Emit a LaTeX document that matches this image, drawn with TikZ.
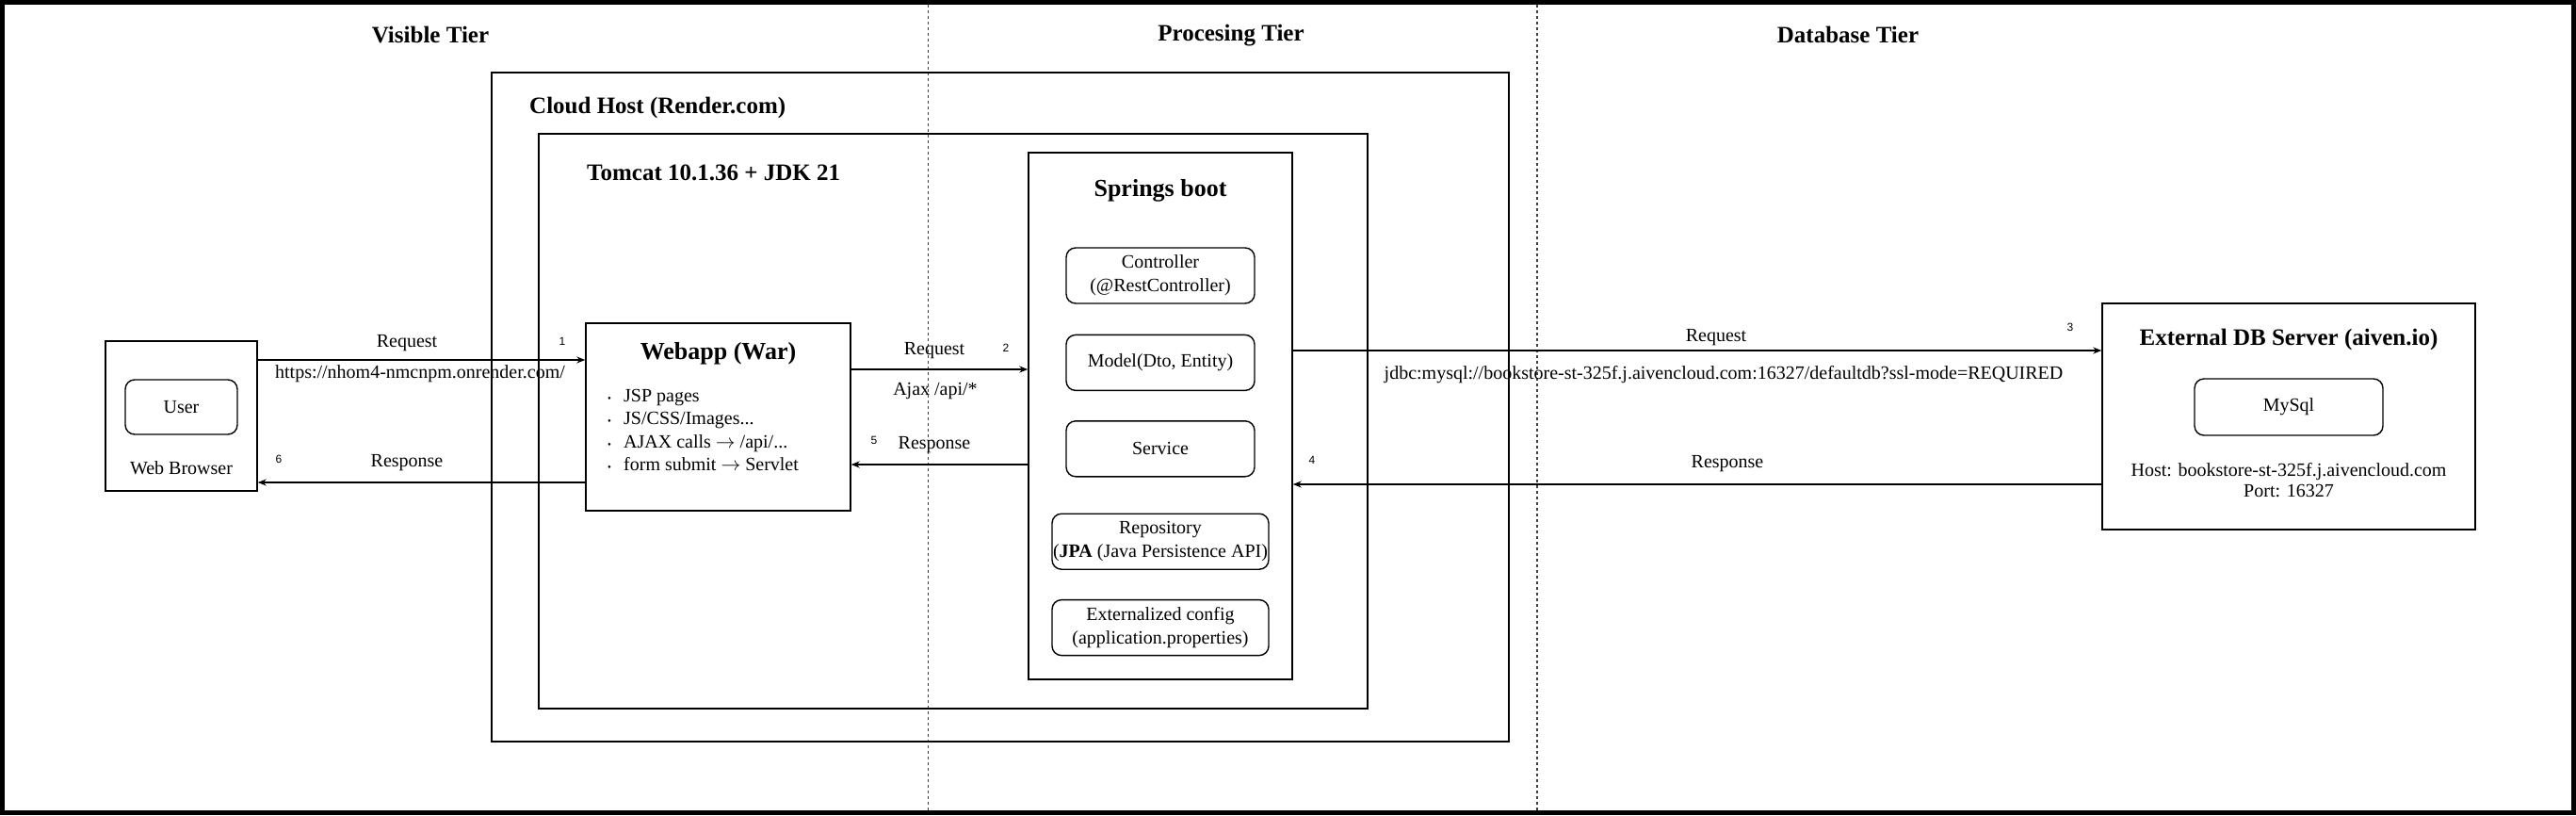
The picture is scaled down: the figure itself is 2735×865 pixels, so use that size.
\documentclass[tikz,border=0pt]{standalone}
\usepackage{fontspec}
\setmainfont{Liberation Serif}
\newfontfamily\numfont{Liberation Sans}
\usetikzlibrary{arrows.meta,positioning}
\tikzset{>={Stealth[length=9pt,width=7pt]},
  box/.style={draw,line width=1.4pt,inner sep=0pt},
  rbox/.style={box,rounded corners=10pt,minimum height=59pt,align=center,font=\fontsize{20}{25}\selectfont},
  ttl/.style={inner sep=0pt,font=\fontsize{25}{29}\selectfont\bfseries},
  txt/.style={inner sep=0pt,font=\fontsize{20}{22}\selectfont},
  num/.style={inner sep=0pt,font=\numfont\fontsize{12}{14}\selectfont},
  arr/.style={->,line width=1.4pt},
  sep/.style={line width=1.2pt,black!75,dash pattern=on 3pt off 3pt}}
\newcommand{\wbul}{\makebox[17pt][l]{\fontsize{11}{11}\selectfont\textbullet}}

\begin{document}
\begin{tikzpicture}[x=1pt,y=-1pt,node distance=32pt]
\useasboundingbox (0,0) rectangle (2735,865);
\draw[line width=5pt] (2.5,2.5) rectangle (2732.5,862.5);

% tiers
\node[ttl] (vis) at (457,37) {Visible Tier};
\node[ttl] (proc) at (1307,38) {Procesing Tier};
\node[ttl] (dbt) at (1962,37) {Database Tier};
\coordinate (s1) at (985.5,5);
\coordinate (s2) at (1632,5);
\draw[sep] (s1) -- ++(0,855);
\draw[sep] (s2) -- ++(0,855);

% browser
\node[box,minimum width=161pt,minimum height=159pt] (browser) at (192.5,441.5) {};
\node[rbox,minimum width=119pt,minimum height=58pt] (user) at (192.5,432) {User};
\node[txt] (wb) at (192.5,497) {Web Browser};

% cloud host + tomcat
\node[box,minimum width=1080pt,minimum height=710pt] (cloud) at (1062,432) {};
\node[ttl,anchor=west] (cloudt) at (562,114) {Cloud Host (Render.com)};
\node[box,minimum width=880pt,minimum height=610pt] (tomcat) at (1012,447) {};
\node[ttl,anchor=west] (tomcatt) at (623,183) {Tomcat 10.1.36 + JDK 21};

% webapp
\node[box,minimum width=281pt,minimum height=199pt] (webapp) at (762.5,442.5) {};
\node[ttl,font=\fontsize{26}{30}\selectfont\bfseries] (webappt) at (762.5,375) {Webapp (War)};
\node[txt,anchor=west,align=left,font=\fontsize{20}{24.3}\selectfont] (pages) at (645,456.5)
  {\wbul JSP pages\\ \wbul JS/CSS/Images...\\ \wbul AJAX calls $\rightarrow$ /api/...\\ \wbul form submit $\rightarrow$ Servlet};

% spring boot
\node[box,minimum width=280pt,minimum height=559pt] (spring) at (1232,441.5) {};
\node[ttl,font=\fontsize{26}{30}\selectfont\bfseries] (springt) at (1232,202) {Springs boot};
\node[rbox,minimum width=200pt] (ctrl) at (1232,292.5) {Controller\\(@RestController)};
\node[rbox,minimum width=200pt,below=of ctrl] (model) {Model(Dto, Entity)};
\node[rbox,minimum width=200pt,below=31pt of model] (serv) {Service};
\node[rbox,minimum width=230pt,below=38pt of serv] (repo) {Repository\\(\textbf{JPA} (Java Persistence API)};
\node[rbox,minimum width=230pt,below=31pt of repo] (conf) {Externalized config\\(application.properties)};

% database
\node[box,minimum width=396pt,minimum height=240pt] (db) at (2430,442) {};
\node[ttl] (dbtitle) at (2430,360) {External DB Server (aiven.io)};
\node[rbox,minimum width=200pt,minimum height=60pt] (mysql) at (2430,432) {MySql};
\node[txt,align=center] (host) at (2430,510) {Host: bookstore-st-325f.j.aivencloud.com\\Port: 16327};

% connectors
\draw[arr] ([yshift=59.5pt]browser.east) coordinate (q1) -- (q1 -| webapp.west);
\draw[arr] ([yshift=50.5pt]webapp.east) coordinate (q2) -- (q2 -| spring.west);
\draw[arr] ([yshift=69.5pt]spring.east) coordinate (q3) -- (q3 -| db.west);
\draw[arr] ([yshift=-72pt]db.west) coordinate (q4) -- (q4 -| spring.east);
\draw[arr] ([yshift=-51.5pt]spring.west) coordinate (q5) -- (q5 -| webapp.east);
\draw[arr] ([yshift=-69.5pt]webapp.west) coordinate (q6) -- (q6 -| browser.east);

% labels
\node[txt] (req1) at (432,364) {Request};
\node[txt] (url) at (446,397) {https://nhom4-nmcnpm.onrender.com/};
\node[txt] (res6) at (432,491) {Response};
\node[txt] (req2) at (992,372) {Request};
\node[txt] (ajax) at (993,415) {Ajax /api/*};
\node[txt] (res5) at (992,472) {Response};
\node[txt] (req3) at (1822,358) {Request};
\node[txt] (jdbc) at (1830,398) {jdbc:mysql://bookstore-st-325f.j.aivencloud.com:16327/defaultdb?ssl-mode=REQUIRED};
\node[txt] (res4) at (1834,492) {Response};

\node[num] (n1) at (597,362) {1};
\node[num] (n2) at (1068,369) {2};
\node[num] (n3) at (2198,347) {3};
\node[num] (n4) at (1393,488) {4};
\node[num] (n5) at (928,467) {5};
\node[num] (n6) at (296,487) {6};
\end{tikzpicture}
\end{document}
